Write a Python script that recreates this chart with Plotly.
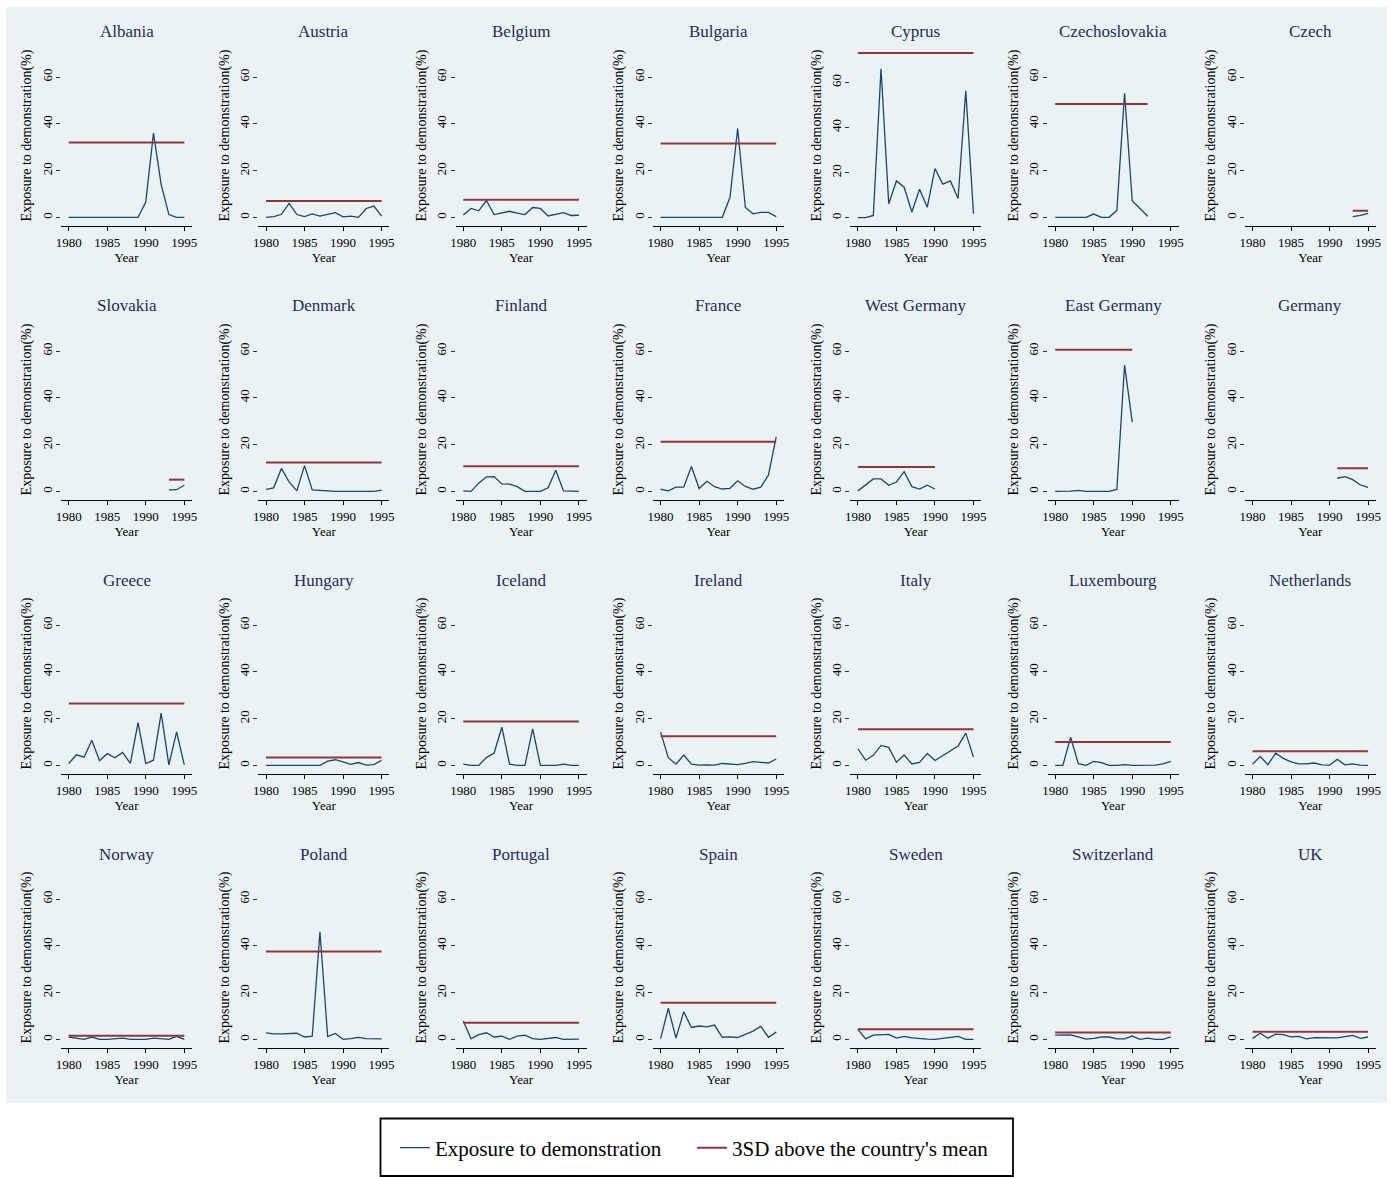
import plotly.graph_objects as go

# ---------------- data ----------------
countries = ["Albania", "Austria", "Belgium", "Bulgaria", "Cyprus", "Czechoslovakia", "Czech",
             "Slovakia", "Denmark", "Finland", "France", "West Germany", "East Germany", "Germany",
             "Greece", "Hungary", "Iceland", "Ireland", "Italy", "Luxembourg", "Netherlands",
             "Norway", "Poland", "Portugal", "Spain", "Sweden", "Switzerland", "UK"]

# first year of each country's series
start_year = [1980, 1980, 1980, 1980, 1980, 1980, 1993,
              1993, 1980, 1980, 1980, 1980, 1980, 1991,
              1980, 1980, 1980, 1980, 1980, 1980, 1980,
              1980, 1980, 1980, 1980, 1980, 1980, 1980]

# 3SD above the country's mean
threshold = [32.0, 7.0, 7.5, 31.6, 73.0, 48.5, 2.8,
             5.0, 12.3, 10.7, 21.2, 10.4, 60.5, 9.9,
             26.5, 3.4, 18.7, 12.4, 15.4, 10.0, 6.0,
             1.5, 37.6, 7.1, 15.7, 4.3, 2.9, 3.3]

albania = [0, 0, 0, 0, 0, 0, 0, 0, 0, 0, 6.5, 36.0, 14.0, 1.2, 0, 0]
austria = [0, 0.3, 1.3, 6.0, 1.2, 0.3, 1.5, 0.5, 1.3, 2.0, 0.2, 0.5, 0, 3.8, 4.8, 0.5]
belgium = [1.0, 3.8, 2.8, 7.2, 1.2, 1.8, 2.6, 1.8, 1.2, 4.2, 3.8, 0.6, 1.3, 2.0, 0.8, 0.9]
bulgaria = [0, 0, 0, 0, 0, 0, 0, 0, 0, 8.5, 38.0, 4.2, 1.5, 2.1, 2.1, 0.3]
cyprus = [0, 0, 1.0, 66.1, 6.2, 16.3, 13.5, 2.5, 12.6, 4.6, 21.8, 14.9, 16.3, 8.5, 56.3, 1.8]
czechoslovakia = [0, 0, 0, 0, 0, 1.4, 0, 0, 3.0, 53.0, 7.0, 3.8, 0.5]
czech = [0.3, 0.8, 1.7]
slovakia = [0.6, 0.7, 2.6]
denmark = [0.8, 1.5, 9.8, 4.0, 0.2, 11.0, 0.6, 0.4, 0, 0, 0, 0, 0, 0, 0, 0.5]
finland = [0.2, 0, 3.5, 6.2, 6.3, 3.2, 3.1, 2.0, 0, 0, 0, 1.5, 9.0, 0.2, 0, 0]
france = [0.9, 0.2, 1.8, 1.8, 10.6, 1.2, 4.3, 2.0, 1.0, 1.3, 4.5, 2.1, 0.9, 1.8, 7.0, 23.3]
west_germany = [0.2, 2.8, 5.3, 5.3, 2.6, 4.0, 8.4, 2.0, 1.0, 2.6, 1.0]
east_germany = [0, 0, 0.1, 0.4, 0, 0, 0, 0, 0.8, 54.0, 29.6]
germany = [5.6, 6.3, 5.0, 2.7, 1.7]
greece = [0.8, 4.5, 3.5, 10.7, 2.0, 5.0, 3.2, 5.5, 0.8, 18.3, 0.8, 2.2, 22.3, 0.2, 14.3, 0.2]
hungary = [0, 0, 0, 0, 0, 0, 0, 0, 1.8, 2.4, 1.5, 0.4, 1.2, 0.1, 0.3, 2.2]
iceland = [0.5, 0, 0, 3.3, 5.3, 16.3, 0.5, 0, 0, 15.6, 0, 0, 0, 0.5, 0, 0]
ireland = [14.2, 3.3, 0.5, 4.4, 0.5, 0.1, 0.2, 0.1, 0.8, 0.5, 0.3, 0.8, 1.6, 1.3, 1.0, 2.7]
italy = [7.1, 2.2, 4.3, 8.5, 7.7, 1.3, 4.4, 0.6, 1.3, 5.1, 2.1, 4.2, 6.2, 8.3, 13.8, 3.5]
luxembourg = [0, 0, 12.0, 0.7, 0, 1.7, 1.2, 0, 0, 0.3, 0, 0.1, 0, 0.1, 0.6, 1.7]
netherlands = [0.5, 3.8, 0.3, 5.2, 3.0, 1.5, 0.6, 0.6, 1.0, 0.2, 0.1, 2.6, 0.2, 0.6, 0.1, 0]
norway = [1.0, 0.5, 0, 1.0, 0, 0, 0.1, 0.5, 0, 0, 0, 0.5, 0.2, 0, 1.3, 0]
poland = [2.8, 2.3, 2.3, 2.3, 2.6, 1.0, 1.4, 46.0, 1.2, 2.5, 0, 0.3, 0.8, 0.3, 0.4, 0.2]
portugal = [7.8, 0.2, 2.0, 2.8, 1.0, 1.4, 0, 1.4, 1.8, 0.3, 0, 0.5, 0.8, 0, 0, 0.1]
spain = [0.3, 13.3, 0.5, 11.8, 5.1, 5.7, 5.3, 6.1, 0.9, 1.1, 0.8, 2.0, 3.5, 5.5, 0.9, 3.1]
sweden = [4.3, 0.2, 1.8, 1.8, 2.1, 0.5, 1.3, 0.6, 0.2, 0.1, 0, 0.4, 0.7, 1.3, 0, 0]
switzerland = [1.8, 1.9, 1.9, 1.1, 0.1, 0.4, 1.0, 1.0, 0.2, 0.2, 1.4, 0, 0.5, 0, 0, 1.1]
uk = [0.4, 2.6, 0.5, 2.2, 2.0, 1.1, 1.3, 0.2, 0.7, 0.6, 0.8, 0.6, 1.2, 1.7, 0.4, 1.0]

series = [albania, austria, belgium, bulgaria, cyprus, czechoslovakia, czech,
          slovakia, denmark, finland, france, west_germany, east_germany, germany,
          greece, hungary, iceland, ireland, italy, luxembourg, netherlands,
          norway, poland, portugal, spain, sweden, switzerland, uk]

x_ticks = [1980, 1985, 1990, 1995]
y_ticks = [0, 20, 40, 60]

# ---------------- style ----------------
W, H = 1391, 1177
FONT = "Liberation Serif"
BLUE = "#1a476f"
RED = "#90353b"
BG = "#eaf2f3"
TITLE_COL = "#1f2d5c"

fig = go.Figure()
layout = dict(
    width=W, height=H,
    margin=dict(l=0, r=0, t=0, b=0, pad=0, autoexpand=False),
    paper_bgcolor="white",
    plot_bgcolor="white",
    font=dict(family=FONT, color="black"),
    showlegend=True,
    legend=dict(
        orientation="h",
        x=395 / W, xanchor="left",
        y=1 - 1148 / H, yanchor="middle",
        bgcolor="rgba(0,0,0,0)", borderwidth=0,
        font=dict(family=FONT, size=21, color="black"),
        entrywidth=252, entrywidthmode="pixels",
        tracegroupgap=0,
    ),
    shapes=[dict(type="rect", xref="paper", yref="paper",
                 x0=6 / W, x1=1387 / W, y0=1 - 1103 / H, y1=1 - 7 / H,
                 fillcolor=BG, line=dict(width=0), layer="below"),
            dict(type="rect", xref="paper", yref="paper",
                 x0=380.5 / W, x1=1013 / W, y0=1 - 1176 / H, y1=1 - 1118.5 / H,
                 fillcolor="white", line=dict(width=1.8, color="black"), layer="below")],
    annotations=[],
)

for i, name in enumerate(countries):
    r, c = divmod(i, 7)
    L = 61 + 197.3 * c
    R = L + 131
    T = 45 + 274 * r
    B = 226 + 274 * r
    sfx = "" if i == 0 else str(i + 1)
    vals = series[i]
    yrs = list(range(start_year[i], start_year[i] + len(vals)))
    thr = [threshold[i]] * len(yrs)

    fig.add_trace(go.Scatter(x=yrs, y=vals, mode="lines", name="Exposure to demonstration",
                             line=dict(color=BLUE, width=1.3), xaxis="x" + sfx, yaxis="y" + sfx,
                             showlegend=(i == 0), legendrank=1))
    fig.add_trace(go.Scatter(x=yrs, y=thr, mode="lines", name="3SD above the country's mean",
                             line=dict(color=RED, width=2), xaxis="x" + sfx, yaxis="y" + sfx,
                             showlegend=(i == 0), legendrank=2))

    yr = [-3.7, 76.6] if name == "Cyprus" else [-3.7, 73.7]
    layout["xaxis" + sfx] = dict(
        domain=[L / W, R / W], anchor="y" + sfx, range=[1979, 1996],
        tickvals=x_ticks, ticks="outside", ticklen=4, tickwidth=1, tickcolor="black",
        showline=True, linecolor="black", linewidth=1, showgrid=False, zeroline=False,
        automargin=False,
        tickfont=dict(family=FONT, size=13, color="black"),
        title=dict(text="Year", font=dict(family=FONT, size=13, color="black"), standoff=0),
    )
    layout["yaxis" + sfx] = dict(
        domain=[1 - B / H, 1 - T / H], anchor="x" + sfx, range=yr,
        tickvals=y_ticks, tickangle=-90, ticks="outside", ticklen=4, tickwidth=1, tickcolor="#333333",
        ticklabelstandoff=-1,
        showline=False, showgrid=True, gridcolor=BG, gridwidth=1.5, zeroline=False,
        automargin=False,
        tickfont=dict(family=FONT, size=13, color="black"),
        title=dict(text="Exposure to demonstration(%)", font=dict(family=FONT, size=14, color="black"),
                   standoff=4),
    )
    layout["annotations"].append(dict(
        text=name, x=(L + R) / 2 / W, y=1 - (32 + 274 * r) / H, xref="paper", yref="paper",
        xanchor="center", yanchor="middle", showarrow=False,
        font=dict(family=FONT, size=17, color=TITLE_COL)))

fig.update_layout(**layout)
fig.write_html("out.html", config={"displayModeBar": False},
               post_script="document.body.style.margin='0';document.body.style.overflow='hidden';")
